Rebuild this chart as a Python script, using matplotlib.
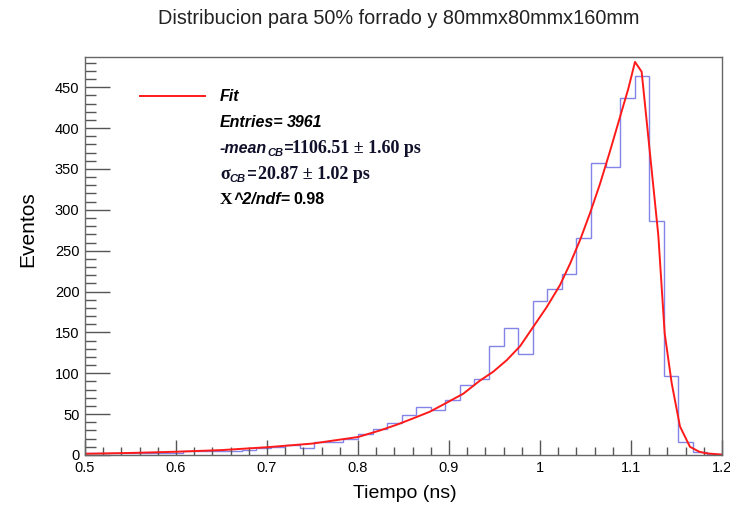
import numpy as np
import matplotlib
matplotlib.use("Agg")
import matplotlib.pyplot as plt
from matplotlib.ticker import MultipleLocator, FixedLocator, FixedFormatter

# ---- data ----
bin_width = 0.016
first_edge = 0.496
counts = [2, 2, 2, 2, 3, 2, 2, 5, 5, 5, 5, 6, 8, 10, 12, 8, 16, 16, 20, 26,
          32, 39, 49, 59, 55, 67, 86, 93, 133, 156, 123, 189, 203, 222, 266,
          357, 353, 437, 464, 286, 97, 16, 4, 1]

fit_x = [0.50, 0.55, 0.60, 0.65, 0.70, 0.75, 0.80, 0.824, 0.8425, 0.861,
         0.879, 0.8975, 0.9157, 0.934, 0.9487, 0.9634, 0.978, 0.9927, 1.0074,
         1.022, 1.033, 1.044, 1.055, 1.066, 1.077, 1.088, 1.097, 1.1044,
         1.1117, 1.130, 1.137, 1.1447, 1.1538, 1.1648, 1.175, 1.183, 1.2]
fit_y = [1.5, 2.5, 4, 6, 9.5, 14, 22, 30, 37, 45, 53, 64, 75, 91, 102, 116,
         133, 157, 181, 208, 234, 263, 296, 332, 372, 414, 448, 481, 469, 269,
         149, 88, 35, 10, 4, 2, 0.5]

xtick_vals = [0.5, 0.6, 0.7, 0.8, 0.9, 1.0, 1.1, 1.2]
xtick_labels = ['0.5', '0.6', '0.7', '0.8', '0.9', '1', '1.1', '1.2']
ytick_vals = [0, 50, 100, 150, 200, 250, 300, 350, 400, 450]

title = "Distribucion para 50% forrado y 80mmx80mmx160mm"
xlabel = "Tiempo (ns)"
ylabel = "Eventos"
fit_label = "Fit"
entries = "3961"
mean_text = "1106.51 \u00b1 1.60 ps"
sigma_text = "20.87 \u00b1 1.02 ps"
chi2_text = "0.98"

# ---- figure ----
plt.rcParams['font.family'] = ['Liberation Sans', 'DejaVu Sans']
W, H = 730, 508
fig = plt.figure(figsize=(W/100, H/100), dpi=100)
ax = fig.add_axes([85/W, 1-455/H, (722-85)/W, (455-57)/H])

edges = first_edge + bin_width*np.arange(len(counts)+1)
ax.stairs(counts, edges, color='#8484e8', lw=1.0, baseline=None)
ax.plot(fit_x, fit_y, color='#ff1a1a', lw=1.4)

ax.set_xlim(0.5, 1.2)
ax.set_ylim(0, 487)

ax.xaxis.set_major_locator(FixedLocator(xtick_vals))
ax.xaxis.set_major_formatter(FixedFormatter(xtick_labels))
ax.xaxis.set_minor_locator(MultipleLocator(0.02))
ax.yaxis.set_major_locator(FixedLocator(ytick_vals))
ax.yaxis.set_minor_locator(MultipleLocator(10))

ax.tick_params(axis='x', which='major', direction='in', length=11, width=1,
               color='#555555', labelsize=10.5, pad=4)
ax.tick_params(axis='x', which='minor', direction='in', length=6, width=1,
               color='#555555')
ax.tick_params(axis='y', which='major', direction='in', length=18, width=1,
               color='#555555', labelsize=10.5, pad=4)
ax.tick_params(axis='y', which='minor', direction='in', length=8, width=1,
               color='#555555')
for s in ax.spines.values():
    s.set_color('#666666')
    s.set_linewidth(1.0)

fig.text(399/W, 1-18/H, title, ha='center', va='center', fontsize=14.3,
         color='#222222')
ax.set_xlabel(xlabel, fontsize=14)
ax.xaxis.set_label_coords((405-85)/637, -(493-455)/398)
ax.xaxis.label.set_va('center')
ax.set_ylabel(ylabel, fontsize=15)
ax.yaxis.set_label_coords((28-85)/637, (455-229)/398)
ax.yaxis.label.set_va('center')

# ---- stats box, built from text pieces ----
renderer = fig.canvas.get_renderer()
SANS_BI = dict(family='Liberation Sans', style='italic', weight='bold')
SANS_B = dict(family='Liberation Sans', weight='bold')
SERIF_B = dict(family='Liberation Serif', weight='bold')


def pieces(x_px, base_px, items, color='black'):
    x = x_px
    for txt, props, size, dy, gap in items:
        t = fig.text(x/W, 1-(base_px+dy)/H, txt, fontsize=size, va='baseline',
                     ha='left', color=color, **props)
        x += t.get_window_extent(renderer).width + gap


fig.add_artist(plt.Line2D([140/W, 205/W], [1-96/H, 1-96/H],
                          color='#ff1a1a', lw=1.4))
tx = 220
fs = 11.5
pieces(tx, 101, [(fit_label, SANS_BI, fs, 0, 0)])
pieces(tx, 127, [("Entries=", SANS_BI, fs, 0, 3), (entries, SANS_BI, fs, 0, 0)])
pieces(tx, 153, [("-mean", SANS_BI, fs, 0, 0), ("CB", SANS_BI, fs*0.7, 3, 0),
                 ("=", SANS_BI, fs, 0, 0), (mean_text, SERIF_B, fs+1.5, 0, 0)],
       color='#10102a')
pieces(tx, 179, [("\u03c3", SERIF_B, fs+1.5, 0, 0), ("CB", SANS_BI, fs*0.7, 3, 0),
                 ("=", SANS_BI, fs, 0, 3), (sigma_text, SERIF_B, fs+1.5, 0, 0)],
       color='#10102a')
pieces(tx, 204, [("X", SERIF_B, fs+1, 0, 1), ("^2/ndf=", SANS_BI, fs, 0, 3),
                 (chi2_text, SANS_B, fs, 0, 0)])

fig.savefig("out.png", dpi=100)
